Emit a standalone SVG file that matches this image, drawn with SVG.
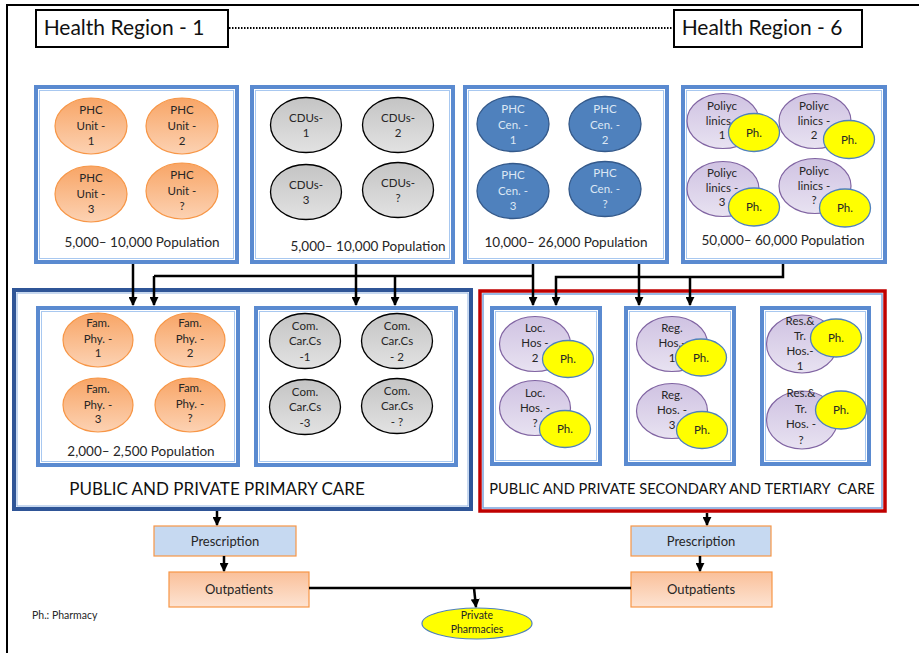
<svg xmlns="http://www.w3.org/2000/svg" width="919" height="653" viewBox="0 0 919 653">
<defs>
<linearGradient id="gOr" x1="0" y1="0" x2="0" y2="1"><stop offset="0" stop-color="#f8a566"/><stop offset="1" stop-color="#fcd2b3"/></linearGradient>
<linearGradient id="gGr" x1="0" y1="0" x2="0" y2="1"><stop offset="0" stop-color="#c4c4c4"/><stop offset="1" stop-color="#e2e2e2"/></linearGradient>
<linearGradient id="gPu" x1="0" y1="0" x2="0" y2="1"><stop offset="0" stop-color="#cfc2e2"/><stop offset="1" stop-color="#e8e2f1"/></linearGradient>
<linearGradient id="gOut" x1="0" y1="0" x2="0" y2="1"><stop offset="0" stop-color="#fac09a"/><stop offset="1" stop-color="#fde3d2"/></linearGradient>
<marker id="ar" viewBox="0 0 10 10" refX="9" refY="5" markerWidth="9" markerHeight="9" markerUnits="userSpaceOnUse" orient="auto"><path d="M0,0 L10,5 L0,10 z" fill="#000"/></marker>
</defs>
<style>
.t{font-family:Lato,"Open Sans",sans-serif;fill:#262626;text-anchor:middle}
.e{font-size:11.5px}
.box{fill:#fff;stroke:#5a8ad0;stroke-width:4}
.boxin{fill:none;stroke:#a8c8f0;stroke-width:1}
.or{fill:url(#gOr);stroke:#f79646;stroke-width:1.2}
.gr{fill:url(#gGr);stroke:#000;stroke-width:1.3}
.bl{fill:#4f81bd;stroke:#34598a;stroke-width:1.3}
.pu{fill:url(#gPu);stroke:#8064a2;stroke-width:1.2}
.ye{fill:#ffff00;stroke:#4f81bd;stroke-width:1.3}
.w{fill:#dde7f4}
.ln{fill:none;stroke:#000;stroke-width:2.5}
.la{fill:none;stroke:#000;stroke-width:2.5;marker-end:url(#ar)}
.pop{font-size:13.5px}
</style>

<path d="M7,660 V5 H919" fill="none" stroke="#000" stroke-width="2"/>

<g id="region1">
<rect x="36" y="10" width="192" height="37" fill="#fff" stroke="#000" stroke-width="2"/>
<text class="t" x="124" y="35" style="font-size:21px;fill:#111">Health Region - 1</text>
</g>
<g id="region6">
<rect x="674" y="10" width="188" height="37" fill="#fff" stroke="#000" stroke-width="2"/>
<text class="t" x="762" y="35" style="font-size:21px;fill:#111">Health Region - 6</text>
</g>

<!-- top row -->
<g id="phc-units">
<rect class="box" x="36" y="87" width="201" height="175"/>
<rect class="boxin" x="39.5" y="90.5" width="194" height="168"/>
<ellipse class="or" cx="91" cy="126" rx="36" ry="28"/>
<text class="t e" x="91" y="114">PHC<tspan x="91" dy="15.5">Unit -</tspan><tspan x="91" dy="15">1</tspan></text>
<ellipse class="or" cx="182" cy="126" rx="36" ry="28"/>
<text class="t e" x="182" y="114">PHC<tspan x="182" dy="15.5">Unit -</tspan><tspan x="182" dy="15">2</tspan></text>
<ellipse class="or" cx="91" cy="194" rx="36" ry="28"/>
<text class="t e" x="91" y="182">PHC<tspan x="91" dy="15.5">Unit -</tspan><tspan x="91" dy="15">3</tspan></text>
<ellipse class="or" cx="182" cy="191" rx="36" ry="28"/>
<text class="t e" x="182" y="179">PHC<tspan x="182" dy="15.5">Unit -</tspan><tspan x="182" dy="15">?</tspan></text>
<text class="t pop" x="142" y="247">5,000– 10,000 Population</text>
</g>

<g id="cdus">
<rect class="box" x="252" y="87" width="201" height="175"/>
<rect class="boxin" x="255.5" y="90.5" width="194" height="168"/>
<ellipse class="gr" cx="306" cy="125" rx="35.5" ry="27.5"/>
<text class="t e" x="306" y="122">CDUs-<tspan x="306" dy="14.5">1</tspan></text>
<ellipse class="gr" cx="398" cy="125" rx="35.5" ry="27.5"/>
<text class="t e" x="398" y="122">CDUs-<tspan x="398" dy="14.5">2</tspan></text>
<ellipse class="gr" cx="306" cy="192" rx="35.5" ry="27.5"/>
<text class="t e" x="306" y="189">CDUs-<tspan x="306" dy="14.5">3</tspan></text>
<ellipse class="gr" cx="398" cy="190" rx="35.5" ry="27.5"/>
<text class="t e" x="398" y="187">CDUs-<tspan x="398" dy="14.5">?</tspan></text>
<text class="t pop" x="368" y="251">5,000– 10,000 Population</text>
</g>

<g id="phc-centers">
<rect class="box" x="465" y="87" width="202" height="175"/>
<rect class="boxin" x="468.5" y="90.5" width="195" height="168"/>
<ellipse class="bl" cx="513" cy="124" rx="36" ry="27.5"/>
<text class="t e w" x="513" y="113">PHC<tspan x="513" dy="15.5">Cen. -</tspan><tspan x="513" dy="15">1</tspan></text>
<ellipse class="bl" cx="605" cy="124" rx="36" ry="27.5"/>
<text class="t e w" x="605" y="113">PHC<tspan x="605" dy="15.5">Cen. -</tspan><tspan x="605" dy="15">2</tspan></text>
<ellipse class="bl" cx="513" cy="191" rx="36" ry="27.5"/>
<text class="t e w" x="513" y="179">PHC<tspan x="513" dy="15.5">Cen. -</tspan><tspan x="513" dy="15">3</tspan></text>
<ellipse class="bl" cx="605" cy="189" rx="36" ry="27.5"/>
<text class="t e w" x="605" y="177">PHC<tspan x="605" dy="15.5">Cen. -</tspan><tspan x="605" dy="15">?</tspan></text>
<text class="t pop" x="566" y="247">10,000– 26,000 Population</text>
</g>

<g id="polyclinics">
<rect class="box" x="683" y="87" width="202" height="175"/>
<rect class="boxin" x="686.5" y="90.5" width="195" height="168"/>
<ellipse class="pu" cx="723" cy="121" rx="36" ry="27.5"/>
<text class="t e" x="722" y="110">Poliyc<tspan x="722" dy="14.5">linics -</tspan><tspan x="722" dy="14.5">1</tspan></text>
<ellipse class="ye" cx="754" cy="132.5" rx="25.5" ry="19"/>
<text class="t e" x="754" y="137">Ph.</text>
<ellipse class="pu" cx="815" cy="121" rx="36" ry="27.5"/>
<text class="t e" x="814" y="110">Poliyc<tspan x="814" dy="14.5">linics -</tspan><tspan x="814" dy="14.5">2</tspan></text>
<ellipse class="ye" cx="849" cy="139.5" rx="25.5" ry="19"/>
<text class="t e" x="849" y="144">Ph.</text>
<ellipse class="pu" cx="723" cy="189" rx="36" ry="27.5"/>
<text class="t e" x="722" y="177">Poliyc<tspan x="722" dy="14.5">linics -</tspan><tspan x="722" dy="14.5">3</tspan></text>
<ellipse class="ye" cx="754" cy="207" rx="25.5" ry="19"/>
<text class="t e" x="754" y="211">Ph.</text>
<ellipse class="pu" cx="815" cy="186" rx="36" ry="27.5"/>
<text class="t e" x="814" y="175">Poliyc<tspan x="814" dy="14.5">linics -</tspan><tspan x="814" dy="14.5">?</tspan></text>
<ellipse class="ye" cx="845" cy="208" rx="25.5" ry="19"/>
<text class="t e" x="845" y="212">Ph.</text>
<text class="t pop" x="783" y="245">50,000– 60,000 Population</text>
</g>

<!-- primary care -->
<g id="primary-care">
<rect x="14" y="290" width="457" height="219" fill="#fff" stroke="#2f5597" stroke-width="4"/>
<rect x="17" y="293" width="451" height="213" fill="none" stroke="#8fb1e0" stroke-width="1"/>
<text class="t" x="217" y="495" style="font-size:17px;fill:#111">PUBLIC AND PRIVATE PRIMARY CARE</text>
</g>
<g id="family-physicians">
<rect class="box" x="38" y="308" width="200" height="157"/>
<rect class="boxin" x="41.5" y="311.5" width="193" height="150"/>
<ellipse class="or" cx="98" cy="340" rx="35" ry="27"/>
<text class="t e" x="98" y="327">Fam.<tspan x="98" dy="15.5">Phy. -</tspan><tspan x="98" dy="14.5">1</tspan></text>
<ellipse class="or" cx="190" cy="340" rx="35" ry="27"/>
<text class="t e" x="190" y="327">Fam.<tspan x="190" dy="15.5">Phy. -</tspan><tspan x="190" dy="14.5">2</tspan></text>
<ellipse class="or" cx="98" cy="405" rx="35" ry="27"/>
<text class="t e" x="98" y="393">Fam.<tspan x="98" dy="15.5">Phy. -</tspan><tspan x="98" dy="14.5">3</tspan></text>
<ellipse class="or" cx="190" cy="405" rx="35" ry="27"/>
<text class="t e" x="190" y="392">Fam.<tspan x="190" dy="15.5">Phy. -</tspan><tspan x="190" dy="14.5">?</tspan></text>
<text class="t pop" x="141" y="456">2,000– 2,500 Population</text>
</g>
<g id="community-care">
<rect class="box" x="256" y="308" width="200" height="157"/>
<rect class="boxin" x="259.5" y="311.5" width="193" height="150"/>
<ellipse class="gr" cx="305" cy="341" rx="35.5" ry="27.5"/>
<text class="t e" x="305" y="330">Com.<tspan x="305" dy="15">Car.Cs</tspan><tspan x="305" dy="15.5">-1</tspan></text>
<ellipse class="gr" cx="397" cy="341" rx="35.5" ry="27.5"/>
<text class="t e" x="397" y="330">Com.<tspan x="397" dy="15">Car.Cs</tspan><tspan x="397" dy="15.5">- 2</tspan></text>
<ellipse class="gr" cx="305" cy="407" rx="35.5" ry="27.5"/>
<text class="t e" x="305" y="396">Com.<tspan x="305" dy="15">Car.Cs</tspan><tspan x="305" dy="15.5">-3</tspan></text>
<ellipse class="gr" cx="397" cy="406" rx="35.5" ry="27.5"/>
<text class="t e" x="397" y="395">Com.<tspan x="397" dy="15">Car.Cs</tspan><tspan x="397" dy="15.5">- ?</tspan></text>
</g>

<!-- secondary/tertiary -->
<g id="secondary-care">
<rect x="480" y="291" width="405" height="220" fill="#fff" stroke="#c00000" stroke-width="3.5"/>
<rect x="483" y="294" width="399" height="214" fill="none" stroke="#7aa3dc" stroke-width="1.5"/>
<text class="t" x="682" y="494" style="font-size:14.6px;fill:#111" xml:space="preserve">PUBLIC AND PRIVATE SECONDARY AND TERTIARY  CARE</text>
</g>
<g id="local-hospitals">
<rect class="box" x="492" y="308" width="108" height="156"/>
<rect class="boxin" x="495.5" y="311.5" width="101" height="149"/>
<ellipse class="pu" cx="535" cy="344" rx="35.5" ry="27.5"/>
<text class="t e" x="535" y="332">Loc.<tspan x="535" dy="15">Hos -</tspan><tspan x="535" dy="15">2</tspan></text>
<ellipse class="ye" cx="568" cy="359" rx="25.5" ry="18.5"/>
<text class="t e" x="568" y="363">Ph.</text>
<ellipse class="pu" cx="535" cy="408" rx="35.5" ry="27.5"/>
<text class="t e" x="535" y="397">Loc.<tspan x="535" dy="15">Hos. -</tspan><tspan x="535" dy="15">?</tspan></text>
<ellipse class="ye" cx="565" cy="429" rx="25.5" ry="18.5"/>
<text class="t e" x="565" y="433">Ph.</text>
</g>
<g id="regional-hospitals">
<rect class="box" x="626" y="308" width="108" height="156"/>
<rect class="boxin" x="629.5" y="311.5" width="101" height="149"/>
<ellipse class="pu" cx="672" cy="344" rx="35.5" ry="27.5"/>
<text class="t e" x="672" y="332">Reg.<tspan x="672" dy="15">Hos.-</tspan><tspan x="672" dy="15">1</tspan></text>
<ellipse class="ye" cx="701" cy="357.5" rx="25.5" ry="18.5"/>
<text class="t e" x="701" y="362">Ph.</text>
<ellipse class="pu" cx="672" cy="411" rx="35.5" ry="27.5"/>
<text class="t e" x="672" y="399">Reg.<tspan x="672" dy="15">Hos. -</tspan><tspan x="672" dy="15">3</tspan></text>
<ellipse class="ye" cx="702" cy="430" rx="25.5" ry="18.5"/>
<text class="t e" x="702" y="434">Ph.</text>
</g>
<g id="research-teaching-hospitals">
<rect class="box" x="762" y="308" width="107" height="156"/>
<rect class="boxin" x="765.5" y="311.5" width="100" height="149"/>
<ellipse class="pu" cx="802" cy="344" rx="35.5" ry="29"/>
<text class="t e" x="800" y="325">Res.&amp;<tspan x="800" dy="15">Tr.</tspan><tspan x="800" dy="15">Hos.-</tspan><tspan x="800" dy="14.5">1</tspan></text>
<ellipse class="ye" cx="836" cy="338" rx="25.5" ry="19"/>
<text class="t e" x="836" y="342">Ph.</text>
<ellipse class="pu" cx="802" cy="420" rx="35.5" ry="29"/>
<text class="t e" x="801" y="397">Res.&amp;<tspan x="801" dy="15.5">Tr.</tspan><tspan x="801" dy="15.5">Hos. -</tspan><tspan x="801" dy="15.5">?</tspan></text>
<ellipse class="ye" cx="841" cy="410" rx="25.5" ry="19"/>
<text class="t e" x="841" y="414">Ph.</text>
</g>

<!-- bottom -->
<g id="prescription-left">
<rect x="154" y="526" width="142" height="30" fill="#c6d9f1" stroke="#f79646" stroke-width="1.2"/>
<text class="t" x="225" y="545.5" style="font-size:13px">Prescription</text>
</g>
<g id="outpatients-left">
<rect x="169" y="572" width="140" height="35" fill="url(#gOut)" stroke="#f79646" stroke-width="1.2"/>
<text class="t" x="239" y="594" style="font-size:13px">Outpatients</text>
</g>
<g id="prescription-right">
<rect x="631" y="526" width="140" height="30" fill="#c6d9f1" stroke="#f79646" stroke-width="1.2"/>
<text class="t" x="701" y="545.5" style="font-size:13px">Prescription</text>
</g>
<g id="outpatients-right">
<rect x="631" y="572" width="141" height="35" fill="url(#gOut)" stroke="#f79646" stroke-width="1.2"/>
<text class="t" x="701" y="594" style="font-size:13px">Outpatients</text>
</g>
<g id="private-pharmacies">
<ellipse cx="477" cy="623.5" rx="55" ry="15.5" fill="#ffff00" stroke="#4f81bd" stroke-width="1.2"/>
<text class="t" x="477" y="619" style="font-size:10.5px">Private<tspan x="477" dy="14">Pharmacies</tspan></text>
</g>
<g id="legend">
<text class="t" x="32" y="619" style="font-size:10.5px;text-anchor:start">Ph.: Pharmacy</text>
</g>

<g id="connectors">
<line x1="229" y1="28" x2="673" y2="28" stroke="#000" stroke-width="2" stroke-dasharray="1.5,1.5"/>
<path class="la" d="M133,264 V305"/>
<path class="ln" d="M154,276 H533"/>
<path class="la" d="M154,276 V305"/>
<path class="la" d="M395,276 V305"/>
<path class="la" d="M356,264 V305"/>
<path class="la" d="M533,264 V305"/>
<path class="la" d="M639,264 V305"/>
<path class="la" d="M783,264 V277 H556 V305"/>
<path class="la" d="M690,277 V305"/>
<path class="la" d="M217,511 V525"/>
<path class="la" d="M224,556 V571"/>
<path class="la" d="M707,513 V525"/>
<path class="la" d="M700,556 V571"/>
<path class="ln" d="M309,588 H631"/>
<path class="la" d="M474,588 L476,607"/>
</g>
</svg>
